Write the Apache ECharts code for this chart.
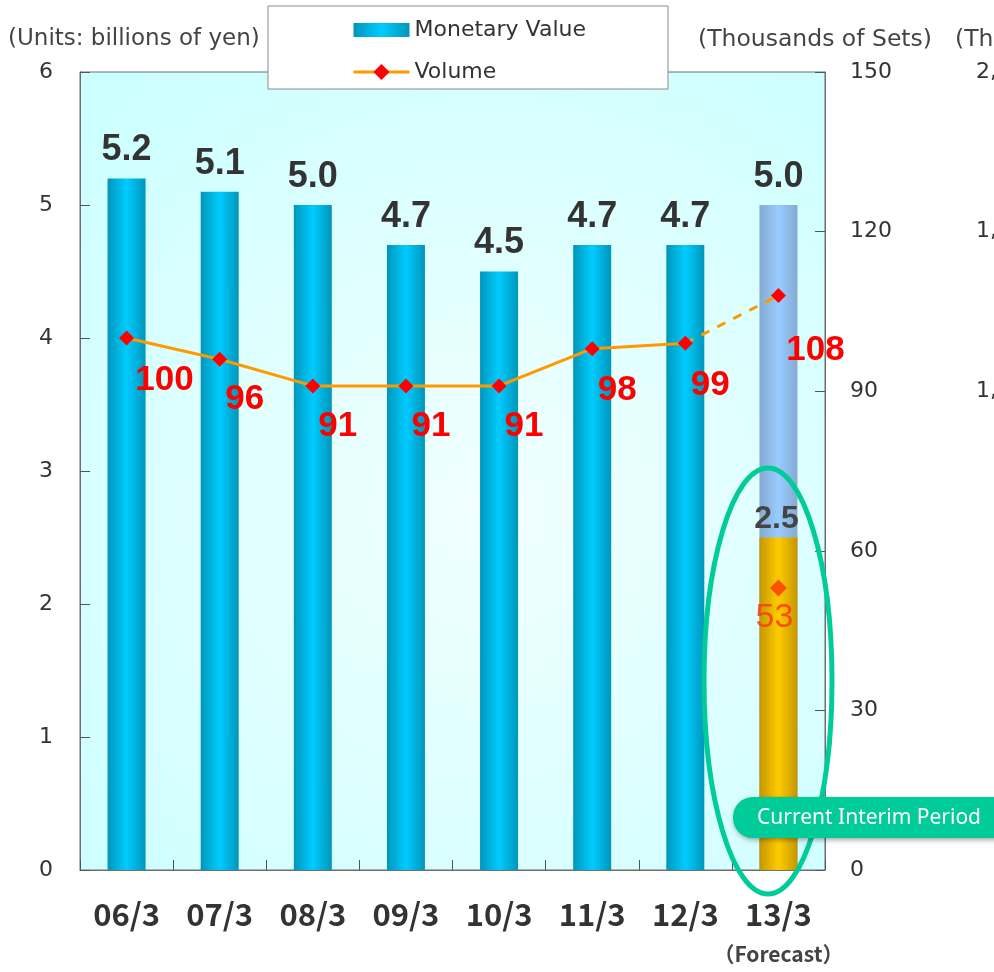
<!DOCTYPE html>
<html>
<head>
<meta charset="utf-8">
<script src="https://cdn.jsdelivr.net/npm/echarts@6/dist/echarts.min.js"></script>
<style>
html,body{margin:0;padding:0;background:#fff;}
#chart{width:994px;height:972px;}
</style>
</head>
<body>
<div id="chart"></div>
<script>
// ---- data ----
const categories = ['06/3', '07/3', '08/3', '09/3', '10/3', '11/3', '12/3', '13/3'];
const forecastIndex = 7;
const monetaryValue = [5.2, 5.1, 5.0, 4.7, 4.5, 4.7, 4.7, 5.0];
const interimValue = [null, null, null, null, null, null, null, 2.5];
const volume = [100, 96, 91, 91, 91, 98, 99, 108];
const interimVolume = [null, null, null, null, null, null, null, 53];
const leftAxisRange = { min: 0, max: 6, interval: 1 };
const rightAxisRange = { min: 0, max: 150, interval: 30 };
const thirdAxisRange = { min: 0, max: 2000, interval: 400 };

// ---- styles ----
function hGrad(edge, mid) {
  return new echarts.graphic.LinearGradient(0, 0, 1, 0, [
    { offset: 0, color: edge }, { offset: 0.5, color: mid }, { offset: 1, color: edge }
  ]);
}
const cyanBar = hGrad('#0096ba', '#00ccff');
const blueBar = hGrad('#84aad2', '#99ccff');
const yellowBar = hGrad('#c49600', '#ffcc00');

const numFont = 'Liberation Sans, Arial, sans-serif';
const textFont = 'DejaVu Sans, sans-serif';

const chart = echarts.init(document.getElementById('chart'));

const barData = monetaryValue.map((v, i) => i === forecastIndex
  ? { value: v, itemStyle: { color: blueBar } } : v);

const actualVolume = volume.map((v, i) => i < forecastIndex ? v : null);
const actualVolumeData = actualVolume.map(v => v == null ? null : {
  value: v,
  label: { offset: [String(v).length === 3 ? 38 : 25, v > 97 ? 12 : 10] }
});
const forecastVolumeData = volume.map((v, i) => {
  if (i === forecastIndex - 1) return { value: v, symbol: 'none', label: { show: false } };
  if (i === forecastIndex) return { value: v, label: { offset: [37, 25] } };
  return null;
});

const option = {
  animation: false,
  backgroundColor: '#ffffff',
  textStyle: { fontFamily: numFont },
  grid: {
    left: 80, right: 169, top: 72, bottom: 102,
    containLabel: false,
    outerBoundsMode: 'none',
    show: true,
    borderColor: '#6e6e6e', borderWidth: 1,
    backgroundColor: new echarts.graphic.RadialGradient(0.55, 0.55, 0.75, [
      { offset: 0, color: '#f2ffff' }, { offset: 1, color: '#ccffff' }
    ])
  },
  legend: {
    left: 268, top: 6,
    orient: 'vertical',
    backgroundColor: '#ffffff',
    borderColor: '#8a8a8a', borderWidth: 1,
    padding: [13, 82, 6, 84],
    itemGap: 20,
    itemWidth: 56, itemHeight: 20,
    lineStyle: { width: 3 },
    textStyle: { fontSize: 22, color: '#333', fontFamily: textFont },
    data: [
      { name: 'Monetary Value', icon: 'path://M0,0M0,3L56,3L56,17L0,17ZM56,20' },
      { name: 'Volume', lineStyle: { width: 3 } }
    ]
  },
  xAxis: {
    type: 'category',
    data: categories,
    axisLine: { lineStyle: { color: '#6e6e6e', width: 1 } },
    axisTick: { show: true, inside: true, length: 10, interval: 0, alignWithLabel: false, lineStyle: { color: '#555' } },
    splitLine: { show: false },
    axisLabel: {
      interval: 0,
      margin: 24,
      formatter: (v, i) => i === forecastIndex ? '{a|' + v + '}\n{b|（Forecast）}' : '{a|' + v + '}',
      rich: {
        a: { fontSize: 31, fontWeight: 'bold', color: '#333', fontFamily: 'Noto Sans CJK JP', lineHeight: 41 },
        b: { fontSize: 21, fontWeight: 'bold', color: '#444', fontFamily: 'Noto Sans CJK JP', lineHeight: 39 }
      }
    }
  },
  yAxis: [
    {
      type: 'value', position: 'left',
      min: leftAxisRange.min, max: leftAxisRange.max, interval: leftAxisRange.interval,
      axisLine: { show: true, lineStyle: { color: '#6e6e6e' } },
      axisTick: { show: true, inside: true, length: 10, lineStyle: { color: '#555' } },
      splitLine: { show: false },
      axisLabel: { margin: 27, fontSize: 22, color: '#333', fontFamily: textFont }
    },
    {
      type: 'value', position: 'right',
      min: rightAxisRange.min, max: rightAxisRange.max, interval: rightAxisRange.interval,
      axisLine: { show: true, lineStyle: { color: '#6e6e6e' } },
      axisTick: { show: true, inside: true, length: 10, lineStyle: { color: '#555' } },
      splitLine: { show: false },
      axisLabel: { margin: 25, fontSize: 22, color: '#333', fontFamily: textFont }
    },
    {
      type: 'value', position: 'right', offset: 206,
      min: thirdAxisRange.min, max: thirdAxisRange.max, interval: thirdAxisRange.interval,
      axisLine: { show: false }, axisTick: { show: false }, splitLine: { show: false },
      axisLabel: {
        margin: 8, fontSize: 22, color: '#333', fontFamily: textFont, align: 'right',
        formatter: v => v.toLocaleString('en-US')
      }
    }
  ],
  series: [
    {
      name: 'Monetary Value', type: 'bar', yAxisIndex: 0,
      barWidth: 38, barGap: '-100%',
      itemStyle: { color: cyanBar },
      label: {
        show: true, position: 'top', distance: 10,
        fontSize: 36, fontWeight: 'bold', color: '#333', fontFamily: numFont,
        formatter: p => p.value.toFixed(1)
      },
      data: barData
    },
    {
      name: 'Interim Monetary Value', type: 'bar', yAxisIndex: 0,
      barWidth: 38, barGap: '-100%',
      itemStyle: { color: yellowBar },
      label: {
        show: true, position: 'top', distance: 2, offset: [-2, 0],
        fontSize: 32, fontWeight: 'bold', color: '#444', fontFamily: numFont,
        formatter: p => p.value.toFixed(1)
      },
      data: interimValue
    },
    {
      name: 'Volume', type: 'line', yAxisIndex: 1,
      symbol: 'diamond', symbolSize: 15,
      itemStyle: { color: '#ff0000' },
      lineStyle: { color: '#ff9900', width: 3 },
      label: {
        show: true, position: 'bottom',
        fontSize: 35, fontWeight: 'bold', color: '#ff0000', fontFamily: numFont
      },
      data: actualVolumeData
    },
    {
      name: 'Volume (Forecast)', type: 'line', yAxisIndex: 1,
      symbol: 'diamond', symbolSize: 15,
      itemStyle: { color: '#ff0000' },
      lineStyle: { color: '#ff9900', width: 3, type: [9, 9] },
      label: {
        show: true, position: 'bottom',
        fontSize: 35, fontWeight: 'bold', color: '#ff0000', fontFamily: numFont
      },
      data: forecastVolumeData
    },
    {
      name: 'Interim Volume', type: 'scatter', yAxisIndex: 1,
      symbol: 'diamond', symbolSize: 17,
      itemStyle: { color: '#ff3300' },
      label: {
        show: true, position: 'bottom', distance: 4, offset: [-4, 0],
        fontSize: 34, color: '#ff3300', fontFamily: numFont
      },
      data: interimVolume
    }
  ],
  graphic: [
    { type: 'text', left: 8, top: 28, z: 100,
      style: { text: '(Units: billions of yen)', fontSize: 23, fill: '#444', fontFamily: textFont } },
    { type: 'text', left: 698, top: 28, z: 100,
      style: { text: '(Thousands of Sets)', fontSize: 23.5, fill: '#444', fontFamily: textFont } },
    { type: 'text', left: 955, top: 28, z: 100,
      style: { text: '(Thousands of Units)', fontSize: 23.5, fill: '#444', fontFamily: textFont } },
    { type: 'ellipse', z: 100,
      shape: { cx: 768, cy: 681, rx: 64, ry: 213 },
      style: { fill: 'none', stroke: '#00cc99', lineWidth: 5 } },
    { type: 'rect', z: 110, x: 733, y: 797,
      shape: { x: 0, y: 0, width: 290, height: 41, r: 20 },
      style: { fill: '#00cc99', shadowBlur: 5, shadowColor: 'rgba(0,0,0,0.35)', shadowOffsetX: 1, shadowOffsetY: 2 } },
    { type: 'text', z: 111, x: 757, y: 818,
      style: { text: 'Current Interim Period', fontSize: 21, fill: '#ffffff', fontFamily: 'Noto Sans, sans-serif', verticalAlign: 'middle' } }
  ]
};
chart.setOption(option);
</script>
</body>
</html>
